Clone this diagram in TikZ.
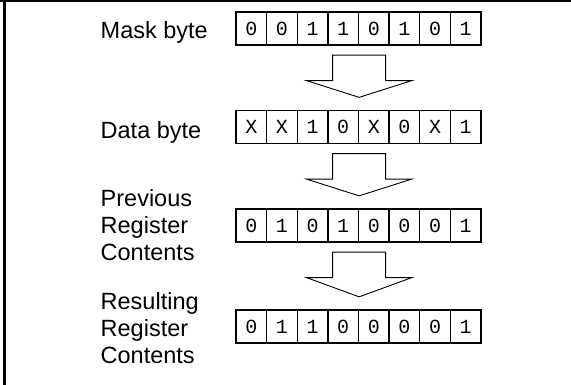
\documentclass[tikz,border=0pt]{standalone}
\usepackage{fontspec}
\setmainfont{Liberation Sans}
\newfontfamily\bitfont{Liberation Mono}
\usepackage{tikz}
\usetikzlibrary{calc}
\tikzstyle{bit}=[draw, line width=1.3pt, minimum width=30.625pt, minimum height=33pt, inner sep=0pt, font=\bitfont\fontsize{20}{20}\selectfont]
\tikzstyle{lbl}=[inner sep=0pt, align=left, font=\fontsize{23.5}{27}\selectfont]
\tikzstyle{blk}=[draw, line width=0.9pt, line join=miter]
\tikzstyle{frame}=[line width=2.2pt]
\newcommand{\bigarrow}[2]{%
\draw[blk] ($(#1.south east)+(-26.5,9.5)$) -- ($(#1.south east)+(26.5,9.5)$)
 -- ($(#1.south east)+(26.5,35)$) -- ($(#1.south east)+(52.5,35)$)
 -- ($(#2.north east)+(0,-12.5)$)
 -- ($(#1.south east)+(-52.5,35)$) -- ($(#1.south east)+(-26.5,35)$) -- cycle;}

\begin{document}
\begin{tikzpicture}[x=1pt, y=-1pt]
\useasboundingbox (0,0) rectangle (571,385);
\draw[frame] (0,1) -- (571,1);
\draw[frame] (4.5,0) -- (4.5,385);
\node[lbl, anchor=base west] (maskl) at (100.5,39) {Mask byte};
\node[lbl, anchor=base west] (datal) at (100.5,139) {Data byte};
\node[lbl, anchor=north west] (prevl) at (100.5,189.2) {Previous\\Register\\Contents};
\node[lbl, anchor=north west] (resl) at (100.5,292) {Resulting\\Register\\Contents};
\foreach \b [count=\i] in {0,0,1,1,0,1,0,1}
  \node[bit] (M\i) at ({220.6875+30.625*\i}, 28.5) {\b};
\foreach \b [count=\i] in {X,X,1,0,X,0,X,1}
  \node[bit] (D\i) at ({220.6875+30.625*\i}, 127) {\b};
\foreach \b [count=\i] in {0,1,0,1,0,0,0,1}
  \node[bit] (P\i) at ({220.6875+30.625*\i}, 225.5) {\b};
\foreach \b [count=\i] in {0,1,1,0,0,0,0,1}
  \node[bit] (R\i) at ({220.6875+30.625*\i}, 326.5) {\b};
\bigarrow{M4}{D4}
\bigarrow{D4}{P4}
\bigarrow{P4}{R4}
\end{tikzpicture}
\end{document}
